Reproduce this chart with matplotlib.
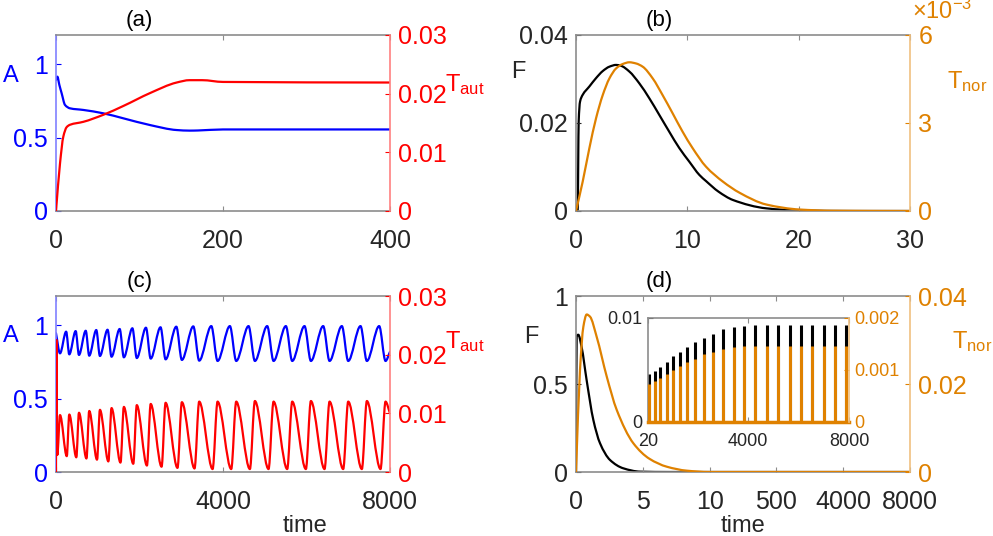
import numpy as np
import matplotlib
matplotlib.use('Agg')
import matplotlib.pyplot as plt
from matplotlib.ticker import FuncFormatter
from matplotlib.path import Path
from matplotlib.patches import PathPatch

plt.rcParams['font.family'] = ['Liberation Sans', 'DejaVu Sans']
plt.rcParams['mathtext.fontset'] = 'custom'
plt.rcParams['mathtext.rm'] = 'Liberation Sans'
plt.rcParams['mathtext.it'] = 'Liberation Sans:italic'

BLUE = '#0000ff'
RED = '#ff0000'
ORANGE = '#df8100'
INK = '#262626'
EDGE = '#8c8c8c'
FS = 18

# ---- panel (a): steady state, A and T_aut
a_A_t = [0, 1.6, 4, 6.8, 10.8, 16.8, 32.7, 56.7, 80.6, 112.6, 144.5, 160, 170, 200, 400]
a_A = [0.893, 0.916, 0.86, 0.802, 0.723, 0.700, 0.689, 0.666, 0.632, 0.586, 0.552, 0.548, 0.549, 0.556, 0.556]
a_T_t = [0, 4.8, 8.8, 12.8, 16.8, 32.7, 56.7, 80.6, 112.6, 144.5, 160, 175, 200, 400]
a_T = [0, 0.0081, 0.0127, 0.0143, 0.0147, 0.0152, 0.0164, 0.0179, 0.0201, 0.0219, 0.0223, 0.0223, 0.0220, 0.0219]

# ---- panel (b): F and T_nor
b_F_t = [0, 0.15, 0.24, 0.36, 0.6, 1.2, 1.8, 2.4, 3.0, 3.6, 4.04, 4.79, 5.69, 6.59, 7.49, 8.38, 9.28, 10.18,
         11.08, 11.68, 12.8, 14.1, 17.1, 20.1, 25, 30]
b_F = [0, 0.0002, 0.0203, 0.0248, 0.0264, 0.0283, 0.0302, 0.0318, 0.0328, 0.0332, 0.0330, 0.0317, 0.0290,
       0.0256, 0.0218, 0.0180, 0.0143, 0.0112, 0.0082, 0.0068, 0.0044, 0.0025, 0.0006, 0.0001, 0, 0]
b_Tn_t = [0, 0.6, 1.2, 1.8, 2.4, 3.0, 3.6, 4.19, 4.79, 5.39, 5.99, 6.89, 7.78, 8.68, 9.58, 10.48, 11.68, 13.2,
          14.7, 17.1, 20.1, 23, 30]
b_Tn = [0, 0.0010, 0.00214, 0.00316, 0.00395, 0.00452, 0.00486, 0.00501, 0.00507, 0.00503, 0.00492, 0.00452,
        0.00395, 0.00333, 0.00270, 0.00214, 0.00151, 0.00100, 0.00062, 0.00022, 0.00005, 0.00001, 0]

# ---- panel (c): oscillations (peaks / troughs per cycle)
c_red_peak_t = [96, 318, 550, 796, 1052, 1330, 1625, 1935, 2268, 2625, 3015, 3430, 3870, 4317, 4764, 5211,
                5658, 6105, 6552, 6999, 7446, 7893]
c_red_peak = [0.0097, 0.0098, 0.0101, 0.0104, 0.0106, 0.0109, 0.0111, 0.0114, 0.0116, 0.0118, 0.0119, 0.0120,
              0.0120, 0.0120, 0.0121, 0.0120, 0.0120, 0.0121, 0.0120, 0.0120, 0.0121, 0.0120]
c_red_trough_t = [31, 258, 487, 730, 983, 1255, 1545, 1851, 2178, 2529, 2910, 3318, 3751, 4197, 4644, 5091,
                  5538, 5985, 6432, 6879, 7326, 7773]
c_red_trough = [0.0029, 0.0027, 0.0025, 0.0023, 0.0021, 0.0018, 0.0016, 0.0014, 0.0011, 0.0009, 0.0007, 0.0006,
                0.0005, 0.0005, 0.0005, 0.0005, 0.0005, 0.0005, 0.0005, 0.0005, 0.0005, 0.0005]
c_red_start_t = [0, 8]
c_red_start = [0, 0.0225]
c_blue_peak_t = [0, 243, 471, 712, 965, 1235, 1525, 1830, 2155, 2504, 2882, 3289, 3720, 4165, 4612, 5059,
                 5506, 5953, 6400, 6847, 7294, 7741]
c_blue_peak = [0.946, 0.957, 0.961, 0.963, 0.968, 0.970, 0.975, 0.980, 0.984, 0.987, 0.991, 0.993, 0.995,
               0.995, 0.995, 0.995, 0.995, 0.995, 0.995, 0.995, 0.995, 0.995]
c_blue_trough = [0.809, 0.802, 0.798, 0.793, 0.791, 0.786, 0.782, 0.777, 0.773, 0.768, 0.764, 0.759, 0.757,
                 0.757, 0.757, 0.757, 0.757, 0.757, 0.757, 0.757, 0.757, 0.757]
c_end = (8000, 0.82, 0.0100)

# ---- panel (d): F and T_nor on a broken time axis, plus inset of the spikes
d_break_t = [0, 5, 10, 500, 4000, 8000]
d_F_t = [0, 0.05, 0.17, 0.42, 0.8, 1.3, 1.8, 2.55, 3.54, 4.8, 7, 8000]
d_F = [0, 0.77, 0.78, 0.71, 0.52, 0.295, 0.163, 0.068, 0.021, 0.002, 0, 0]
d_Tn_t = [0, 0.3, 0.55, 0.8, 1.05, 1.55, 2.3, 3.05, 4.3, 5.5, 6.8, 8.3, 10, 8000]
d_Tn = [0, 0.0232, 0.033, 0.0358, 0.0353, 0.0307, 0.0217, 0.0141, 0.0065, 0.0030, 0.0012, 0.0003, 0, 0]
spike_t = [40, 279, 505, 756, 1007, 1286, 1580, 1898, 2241, 2599, 2997, 3423, 3849, 4287, 4736, 5174,
           5640, 6090, 6540, 6993, 7443, 7893]
spike_F = [0.0046, 0.0049, 0.0053, 0.0058, 0.0063, 0.0067, 0.0072, 0.0077, 0.0081, 0.0085, 0.0089, 0.0091,
           0.0092, 0.0093, 0.0093, 0.0093, 0.0093, 0.0093, 0.0093, 0.0093, 0.0093, 0.0093]
spike_Tn = [0.00073, 0.00079, 0.00085, 0.00093, 0.00100, 0.00108, 0.00115, 0.00122, 0.00130, 0.00135,
            0.00140, 0.00144, 0.00146, 0.00147, 0.00147, 0.00147, 0.00147, 0.00147, 0.00147, 0.00147,
            0.00147, 0.00147]

fmt_g = FuncFormatter(lambda v, p: '%g' % v)


def smooth(ax, t, v, color, lw=1.6):
    # smooth monotone (Fritsch-Carlson) bezier through the read points
    t = np.asarray(t, float)
    v = np.asarray(v, float)
    h = np.diff(t)
    sl = np.diff(v) / h
    d = np.zeros(len(t))
    d[0], d[-1] = sl[0], sl[-1]
    for i in range(1, len(t) - 1):
        if sl[i - 1] * sl[i] > 0:
            w1 = 2 * h[i] + h[i - 1]
            w2 = h[i] + 2 * h[i - 1]
            d[i] = (w1 + w2) / (w1 / sl[i - 1] + w2 / sl[i])
    verts = [(t[0], v[0])]
    codes = [Path.MOVETO]
    for i in range(len(t) - 1):
        k = h[i] / 3
        verts += [(t[i] + k, v[i] + d[i] * k), (t[i + 1] - k, v[i + 1] - d[i + 1] * k), (t[i + 1], v[i + 1])]
        codes += [Path.CURVE4] * 3
    ax.add_patch(PathPatch(Path(verts, codes), fill=False, edgecolor=color, lw=lw,
                           capstyle='round', joinstyle='round'))


def style(ax, tw, lcol, lspine, rcol, rspine, fs=FS, pad=6, xpad=13):
    for s in ['top', 'bottom']:
        ax.spines[s].set_color(EDGE)
        ax.spines[s].set_linewidth(1.2)
    ax.spines['left'].set_color(lspine)
    ax.spines['left'].set_linewidth(1.2)
    ax.spines['right'].set_visible(False)
    for s in ['top', 'bottom', 'left']:
        tw.spines[s].set_visible(False)
    tw.spines['right'].set_color(rspine)
    tw.spines['right'].set_linewidth(1.2)
    ax.tick_params(axis='x', direction='in', top=True, length=3.5, width=0.8, color=EDGE,
                   labelcolor=INK, labelsize=fs, pad=xpad)
    ax.tick_params(axis='y', direction='in', length=3.5, width=0.8, colors=lcol, labelsize=fs, pad=pad)
    tw.tick_params(axis='y', direction='in', length=3.5, width=0.8, colors=rcol, labelsize=fs, pad=pad)
    ax.yaxis.set_major_formatter(fmt_g)
    tw.yaxis.set_major_formatter(fmt_g)


def ylabels(ax, tw, ltxt, lcol, lpos, rtxt, rcol, rpos):
    ax.set_ylabel(ltxt, rotation=0, color=lcol, fontsize=17, ha='center', va='center')
    ax.yaxis.set_label_coords(*lpos)
    tw.set_ylabel(rtxt, rotation=0, color=rcol, fontsize=17, ha='center', va='center')
    tw.yaxis.set_label_coords(*rpos)


def title(ax, txt):
    ax.text(0.25, 1.08, txt, transform=ax.transAxes, ha='center', va='center', fontsize=16, color='k')


fig = plt.figure(figsize=(9.93, 5.36), dpi=100)
W, H = 334 / 993, 176 / 536
pos = {'a': [56 / 993, 1 - 211 / 536, W, H], 'b': [576 / 993, 1 - 211 / 536, W, H],
       'c': [56 / 993, 1 - 472 / 536, W, H], 'd': [576 / 993, 1 - 472 / 536, W, H]}

# (a)
ax = fig.add_axes(pos['a'])
tw = ax.twinx()
smooth(ax, a_A_t, a_A, BLUE)
smooth(tw, a_T_t, a_T, RED)
ax.set_xlim(0, 400)
ax.set_xticks([0, 200, 400])
ax.set_ylim(0, 1.2)
ax.set_yticks([0, 0.5, 1])
tw.set_ylim(0, 0.03)
tw.set_yticks([0, 0.01, 0.02, 0.03])
style(ax, tw, BLUE, '#8080ff', RED, '#ff8080')
ylabels(ax, tw, 'A', BLUE, (-0.135, 0.767), r'T$_{\rm aut}$', RED, (1.225, 0.72))
title(ax, '(a)')

# (b)
ax = fig.add_axes(pos['b'])
tw = ax.twinx()
smooth(ax, b_F_t, b_F, 'k')
smooth(tw, b_Tn_t, b_Tn, ORANGE)
ax.set_xlim(0, 30)
ax.set_xticks([0, 10, 20, 30])
ax.set_ylim(0, 0.04)
ax.set_yticks([0, 0.02, 0.04])
tw.set_ylim(0, 0.006)
tw.set_yticks([0, 0.003, 0.006])
style(ax, tw, INK, EDGE, ORANGE, '#f0c080')
tw.yaxis.set_major_formatter(FuncFormatter(lambda v, p: '%g' % round(v * 1e3, 6)))
tw.text(1.005, 1.09, r'$\times$10$^{-3}$', transform=tw.transAxes, ha='left', va='baseline',
        fontsize=17, color=ORANGE)
ylabels(ax, tw, 'F', INK, (-0.174, 0.79), r'T$_{\rm nor}$', ORANGE, (1.172, 0.733))
title(ax, '(b)')

# (c)
ax = fig.add_axes(pos['c'])
tw = ax.twinx()
blue_t = np.column_stack([c_blue_peak_t, c_red_peak_t]).ravel()
blue_v = np.column_stack([c_blue_peak, c_blue_trough]).ravel()
red_t = np.column_stack([c_red_trough_t, c_red_peak_t]).ravel()
red_v = np.column_stack([c_red_trough, c_red_peak]).ravel()
smooth(ax, np.r_[blue_t, c_end[0]], np.r_[blue_v, c_end[1]], BLUE)
smooth(tw, np.r_[c_red_start_t, red_t, c_end[0]], np.r_[c_red_start, red_v, c_end[2]], RED)
ax.set_xlim(0, 8000)
ax.set_xticks([0, 4000, 8000])
ax.set_ylim(0, 1.2)
ax.set_yticks([0, 0.5, 1])
tw.set_ylim(0, 0.03)
tw.set_yticks([0, 0.01, 0.02, 0.03])
style(ax, tw, BLUE, '#8080ff', RED, '#ff8080')
ylabels(ax, tw, 'A', BLUE, (-0.135, 0.773), r'T$_{\rm aut}$', RED, (1.225, 0.744))
ax.set_xlabel('time', fontsize=17, color=INK, va='center')
ax.xaxis.set_label_coords(0.745, -0.305)
title(ax, '(c)')

# (d)
brk_u = np.arange(len(d_break_t))
fwd = lambda t: np.interp(t, d_break_t, brk_u)
inv = lambda u: np.interp(u, brk_u, d_break_t)
ax = fig.add_axes(pos['d'])
tw = ax.twinx()
ax.set_xscale('function', functions=(fwd, inv))
smooth(ax, d_F_t, d_F, 'k')
smooth(tw, d_Tn_t, d_Tn, ORANGE)
ax.set_xlim(0, 8000)
ax.set_xticks(d_break_t)
ax.set_xticklabels([str(v) for v in d_break_t])
ax.minorticks_off()
ax.set_ylim(0, 1)
ax.set_yticks([0, 0.5, 1])
tw.set_ylim(0, 0.04)
tw.set_yticks([0, 0.02, 0.04])
style(ax, tw, INK, EDGE, ORANGE, '#f0c080')
ylabels(ax, tw, 'F', INK, (-0.135, 0.767), r'T$_{\rm nor}$', ORANGE, (1.185, 0.744))
ax.set_xlabel('time', fontsize=17, color=INK, va='center')
ax.xaxis.set_label_coords(0.5, -0.305)
title(ax, '(d)')

# inset of (d)
axi = fig.add_axes([648 / 993, 1 - 422 / 536, 201 / 993, 104 / 536])
twi = axi.twinx()
axi.vlines(spike_t, 0, spike_F, color='k', lw=2.2)
twi.vlines(spike_t, 0, spike_Tn, color=ORANGE, lw=2.2)
twi.axhline(0, color=ORANGE, lw=2.5, clip_on=False)
axi.set_xlim(20, 8000)
axi.set_xticks([20, 4000, 8000])
axi.set_ylim(0, 0.01)
axi.set_yticks([0, 0.01])
twi.set_ylim(0, 0.002)
twi.set_yticks([0, 0.001, 0.002])
style(axi, twi, INK, EDGE, ORANGE, '#f0c080', fs=13, pad=4, xpad=8)

fig.savefig('out.png', dpi=100)
